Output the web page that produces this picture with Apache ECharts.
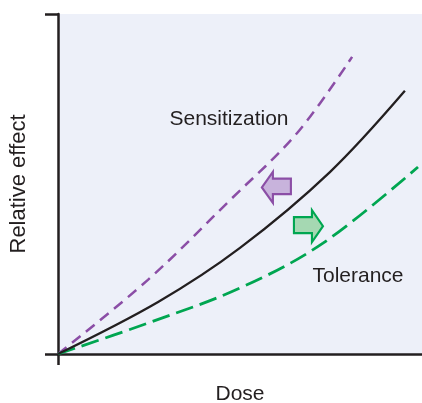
<!DOCTYPE html>
<html>
<head>
<meta charset="utf-8">
<script src="https://cdn.jsdelivr.net/npm/echarts@6/dist/echarts.min.js"></script>
<style>
  html, body { margin: 0; padding: 0; background: #ffffff; }
  #chart { width: 422px; height: 403px; }
</style>
</head>
<body>
<div id="chart"></div>
<script>
// Dose–response curves: [dose, relative effect] on a 0–100 scale
const baselineCurve = [[0, 0], [27.5, 15.3], [50, 31.2], [74.7, 53.5], [95.3, 77.4]];
const sensitizationCurve = [[0, 0], [24.7, 21.8], [47.3, 45.3], [65.7, 65.0], [80.8, 87.4]];
const toleranceCurve = [[0, 0], [24.7, 9.1], [50, 19.4], [72.8, 32.6], [98.9, 55.0]];

const curveLabels = ['Sensitization', 'Tolerance'];
const axisNames = ['Dose', 'Relative effect'];

const INK = '#231f20';
const PURPLE = '#8b4ea6';
const GREEN = '#00a651';
const FONT = '"Liberation Sans", Arial, sans-serif';

// block arrows showing the shift of the curve
const arrowLeft = 'path://M0,16 L11,0 L11,7 L29,7 L29,23 L11,23 L11,32 Z';
const arrowRight = 'path://M29,16 L18,0 L18,7 L0,7 L0,23 L18,23 L18,32 Z';

const chart = echarts.init(document.getElementById('chart'), null, { renderer: 'canvas' });

chart.setOption({
  animation: false,
  grid: {
    left: 58, top: 14, right: 0, bottom: 49,
    outerBoundsMode: 'none', containLabel: false,
    show: true, backgroundColor: '#edf0f9', borderWidth: 0
  },
  xAxis: {
    type: 'value', min: 0, max: 100,
    name: axisNames[0], nameLocation: 'middle', nameGap: 30,
    nameTextStyle: { fontFamily: FONT, fontSize: 21, color: INK },
    axisLine: { show: true, lineStyle: { color: INK, width: 2.5 } },
    axisTick: { show: true, customValues: [0], length: 11, lineStyle: { color: INK, width: 2.5 } },
    axisLabel: { show: false },
    splitLine: { show: false }
  },
  yAxis: {
    type: 'value', min: 0, max: 100,
    name: axisNames[1], nameLocation: 'middle', nameGap: 28,
    nameTextStyle: { fontFamily: FONT, fontSize: 22, color: INK },
    axisLine: { show: true, lineStyle: { color: INK, width: 2.5 } },
    axisTick: { show: true, customValues: [0, 100], length: 13, lineStyle: { color: INK, width: 2.5 } },
    axisLabel: { show: false },
    splitLine: { show: false }
  },
  series: [
    {
      type: 'line', data: sensitizationCurve, smooth: 0.35, symbol: 'none',
      lineStyle: { color: PURPLE, width: 2.5, type: [11, 7] }, z: 3
    },
    {
      type: 'line', data: toleranceCurve, smooth: 0.35, symbol: 'none',
      lineStyle: { color: GREEN, width: 2.8, type: [18, 7] }, z: 3
    },
    {
      type: 'line', data: baselineCurve, smooth: 0.35, symbol: 'none',
      lineStyle: { color: INK, width: 2.3 }, z: 4
    },
    {
      type: 'scatter', symbol: arrowLeft, symbolSize: [29, 31],
      data: [[60.0, 49.0]],
      itemStyle: { color: '#c8b3dc', borderColor: PURPLE, borderWidth: 2.2, opacity: 1 },
      z: 5
    },
    {
      type: 'scatter', symbol: arrowRight, symbolSize: [29, 32],
      data: [[68.8, 37.6]],
      itemStyle: { color: '#a5d8b2', borderColor: GREEN, borderWidth: 2.2, opacity: 1 },
      z: 5
    }
  ],
  graphic: [
    {
      type: 'text', x: 229, y: 119,
      style: { text: curveLabels[0], font: '21px ' + FONT, fill: INK, align: 'center', verticalAlign: 'middle' }
    },
    {
      type: 'text', x: 358, y: 276,
      style: { text: curveLabels[1], font: '21px ' + FONT, fill: INK, align: 'center', verticalAlign: 'middle' }
    }
  ]
});
</script>
</body>
</html>
